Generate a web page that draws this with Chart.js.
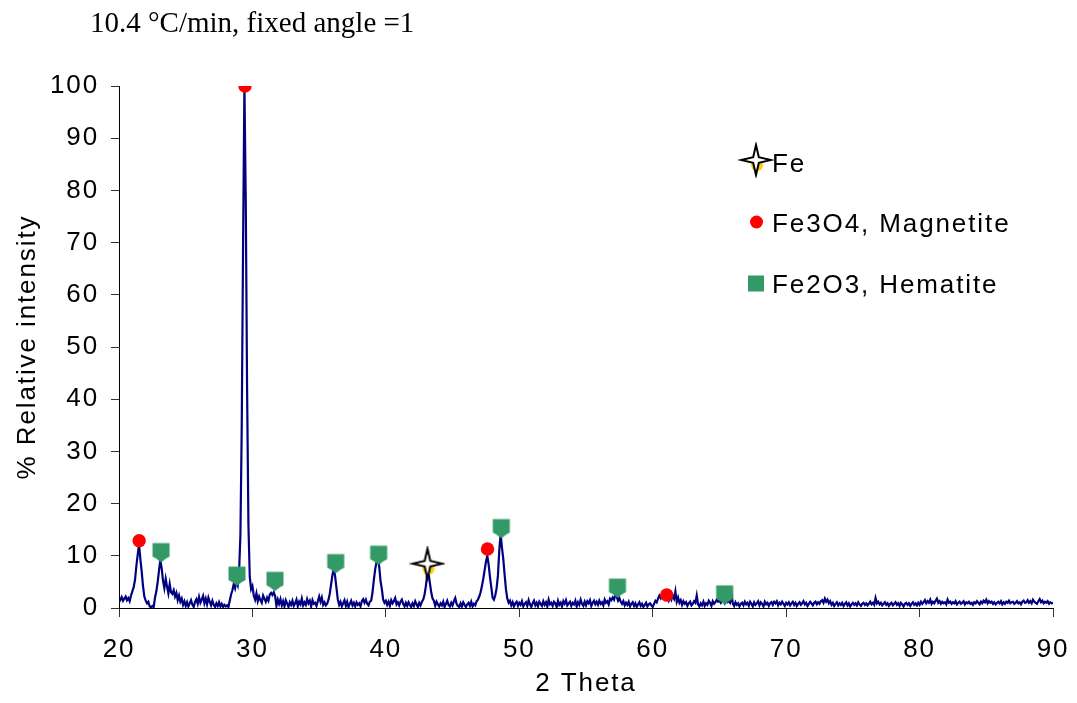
<!DOCTYPE html>
<html>
<head>
<meta charset="utf-8">
<title>XRD pattern</title>
<script src="https://cdn.jsdelivr.net/npm/chart.js@4.4.1/dist/chart.umd.min.js"></script>
<style>
  html, body { margin: 0; padding: 0; background: #ffffff; }
  #plot { display: block; }
</style>
</head>
<body>
<canvas id="plot" width="1077" height="703"></canvas>
<script>
// Scan settings: 2-theta from 20 to 90 degrees in 0.1 degree steps
const scanStart = 20;
const scanStep = 0.1;

// Relative intensity (%) for each step, one row per degree
const intensity = [
  1.1, 1.6, 2.1, 1.4, 1.8, 2.2, 1.5, 1.9, 1.3, 2.4,      // 20
  3.2, 4.0, 5.4, 8.0, 10.2, 12.2, 9.4, 7.0, 4.2, 2.2,    // 21
  1.4, 0.9, 1.2, 0.3, 0.1, 0.4, 0.2, 2.0, 3.2, 5.0,      // 22
  7.2, 9.2, 7.6, 5.2, 3.8, 5.6, 4.1, 2.8, 4.6, 3.0,      // 23
  2.7, 3.4, 2.2, 2.9, 1.5, 2.4, 1.2, 1.8, 0.6, 1.3,      // 24
  0.4, 1.1, 0.3, 0.9, 1.5, 0.6, 0.2, 1.2, 1.7, 0.8,      // 25
  2.1, 1.0, 1.6, 2.3, 0.9, 1.8, 0.7, 2.0, 1.2, 0.5,      // 26
  1.4, 0.6, 0.2, 0.9, 0.4, 1.1, 0.3, 0.8, 0.2, 0.6,      // 27
  0.3, 0.5, 0.2, 1.4, 2.6, 3.4, 4.6, 3.8, 5.2, 4.4,      // 28
  7.0, 14.0, 35.0, 70.0, 100, 78.0, 42.0, 16.0, 6.0, 3.6, // 29
  4.2, 2.4, 1.6, 2.8, 1.3, 2.2, 1.5, 1.0, 2.4, 1.8,      // 30
  1.2, 2.0, 1.4, 2.6, 2.9, 2.5, 3.0, 2.3, 0.4, 1.6,      // 31
  0.8, 1.7, 0.5, 1.3, 0.3, 1.5, 0.9, 0.2, 1.1, 0.6,      // 32
  1.4, 0.4, 0.9, 1.6, 0.3, 1.2, 0.7, 1.8, 0.5, 1.1,      // 33
  0.6, 1.7, 0.9, 1.4, 0.3, 1.5, 0.8, 1.0, 0.4, 1.3,      // 34
  2.2, 1.2, 2.0, 0.6, 1.1, 0.5, 0.8, 1.6, 2.8, 4.6,      // 35
  6.4, 7.6, 6.0, 3.8, 1.6, 0.6, 1.2, 0.3, 0.9, 1.5,      // 36
  0.4, 1.2, 0.2, 0.8, 1.4, 0.5, 1.0, 0.3, 1.1, 0.6,      // 37
  0.9, 0.3, 1.3, 1.7, 1.0, 1.6, 0.8, 0.5, 1.2, 1.4,      // 38
  3.0, 5.4, 7.4, 8.8, 9.6, 8.0, 5.2, 3.6, 1.6, 1.0,      // 39
  1.4, 0.6, 1.2, 0.4, 1.5, 0.9, 1.3, 1.9, 0.7, 1.1,      // 40
  0.5, 1.2, 1.6, 0.8, 0.3, 1.0, 0.4, 1.1, 0.6, 0.2,      // 41
  0.9, 0.4, 1.3, 0.7, 0.2, 1.0, 0.5, 1.2, 1.6, 2.6,      // 42
  4.2, 6.4, 6.6, 4.8, 3.0, 1.8, 1.4, 0.4, 1.2, 0.7,      // 43
  0.3, 0.9, 0.5, 1.2, 0.2, 0.8, 1.4, 0.6, 0.3, 1.0,      // 44
  0.5, 1.3, 1.9, 0.8, 0.4, 0.2, 0.9, 0.3, 1.1, 0.6,      // 45
  0.2, 0.7, 1.0, 0.4, 1.2, 0.3, 0.8, 0.5, 1.3, 1.6,      // 46
  2.2, 3.0, 4.2, 5.6, 7.2, 8.8, 10.0, 8.4, 6.0, 4.0,     // 47
  2.0, 1.6, 2.4, 3.8, 6.2, 11.0, 14.2, 11.6, 9.4, 6.4,   // 48
  3.6, 1.8, 1.0, 1.4, 0.5, 1.1, 0.3, 0.9, 1.2, 0.4,      // 49
  1.0, 0.6, 1.3, 0.3, 0.8, 1.1, 0.4, 1.5, 0.7, 0.2,      // 50
  0.9, 1.4, 0.5, 1.0, 0.3, 1.2, 0.8, 0.4, 1.3, 0.6,      // 51
  1.1, 0.3, 1.6, 0.7, 1.0, 0.4, 1.2, 0.9, 0.2, 1.4,      // 52
  0.6, 1.0, 0.3, 1.3, 0.8, 1.5, 0.5, 0.9, 1.2, 0.4,      // 53
  1.0, 0.7, 1.4, 0.3, 1.1, 0.6, 1.6, 0.8, 0.4, 1.2,      // 54
  0.5, 1.3, 0.9, 1.5, 0.4, 1.0, 1.4, 0.7, 1.2, 0.6,      // 55
  1.4, 0.8, 1.1, 0.5, 1.6, 1.0, 1.3, 0.7, 1.8, 1.5,      // 56
  2.0, 1.6, 2.6, 2.2, 1.4, 1.9, 1.2, 0.8, 1.3, 0.5,      // 57
  1.0, 0.6, 1.2, 0.3, 0.8, 1.1, 0.4, 0.9, 0.2, 0.7,      // 58
  1.1, 0.4, 0.8, 0.2, 0.6, 1.0, 0.3, 0.7, 0.9, 0.5,      // 59
  0.2, 0.8, 1.4, 1.1, 1.8, 2.4, 1.9, 2.6, 2.1, 1.7,      // 60
  2.5, 2.0, 1.4, 2.2, 1.6, 2.4, 1.8, 3.2, 1.2, 2.0,      // 61
  1.0, 1.5, 0.6, 1.3, 0.8, 1.1, 0.4, 0.9, 1.2, 0.5,      // 62
  0.8, 1.3, 1.0, 2.4, 0.7, 0.3, 0.9, 0.5, 1.2, 0.4,      // 63
  0.9, 0.6, 1.4, 1.0, 0.4, 1.3, 0.8, 1.1, 1.6, 1.2,      // 64
  1.4, 1.0, 1.7, 1.3, 0.9, 1.5, 1.1, 1.3, 1.0, 2.8,      // 65
  0.9, 0.4, 1.1, 0.6, 0.9, 0.3, 0.8, 1.0, 0.5, 1.2,      // 66
  0.7, 1.0, 0.4, 1.2, 0.8, 0.3, 1.1, 0.6, 0.9, 1.3,      // 67
  0.5, 1.1, 0.8, 0.3, 1.2, 0.7, 1.0, 0.4, 0.9, 1.1,      // 68
  0.6, 1.2, 0.9, 1.3, 0.5, 1.0, 0.7, 1.2, 0.8, 0.4,      // 69
  1.0, 0.7, 1.1, 0.5, 0.9, 1.2, 0.6, 1.0, 0.4, 0.8,      // 70
  1.1, 0.6, 0.9, 1.3, 0.7, 1.0, 0.4, 0.8, 1.2, 0.9,      // 71
  0.5, 1.0, 1.2, 0.7, 1.1, 0.8, 1.3, 1.5, 1.0, 1.8,      // 72
  1.2, 1.6, 0.9, 1.3, 0.6, 1.0, 0.4, 0.8, 1.1, 0.5,      // 73
  0.9, 0.6, 1.0, 0.4, 0.8, 1.1, 0.5, 0.9, 0.3, 0.7,      // 74
  1.0, 0.6, 0.9, 0.5, 1.1, 0.7, 0.4, 0.8, 1.0, 0.6,      // 75
  0.9, 0.5, 0.8, 1.2, 0.7, 1.0, 0.6, 1.9, 0.9, 1.2,      // 76
  0.7, 1.0, 0.5, 0.8, 1.1, 0.6, 0.9, 0.4, 0.8, 1.0,      // 77
  0.5, 0.8, 1.1, 0.6, 0.9, 0.4, 1.0, 0.7, 0.3, 0.8,      // 78
  1.0, 0.6, 0.9, 0.4, 0.8, 1.1, 0.6, 0.9, 0.5, 1.0,      // 79
  0.6, 1.2, 0.8, 1.1, 1.5, 0.9, 1.3, 1.0, 1.6, 0.8,      // 80
  1.2, 0.9, 1.4, 1.8, 1.0, 1.3, 0.8, 1.2, 0.9, 1.1,      // 81
  0.7, 1.6, 1.0, 1.2, 0.8, 1.1, 0.9, 1.3, 0.7, 1.0,      // 82
  1.2, 0.8, 1.0, 1.3, 0.7, 1.1, 0.9, 1.2, 0.8, 1.0,      // 83
  0.6, 1.1, 0.9, 1.3, 1.0, 0.7, 1.2, 0.9, 1.4, 1.1,      // 84
  1.6, 0.9, 1.3, 1.0, 1.2, 0.8, 1.1, 0.7, 1.0, 1.2,      // 85
  0.9, 1.3, 0.7, 1.1, 0.8, 1.2, 1.0, 1.4, 0.9, 1.1,      // 86
  1.2, 0.8, 1.0, 1.3, 0.9, 1.1, 0.7, 1.2, 1.4, 1.0,      // 87
  1.1, 1.5, 1.0, 1.3, 0.9, 1.6, 1.2, 1.0, 0.8, 1.3,      // 88
  1.7, 1.1, 1.4, 0.9, 1.2, 1.0, 1.3, 0.8, 1.1, 0.9,      // 89
  1.0                                                    // 90
];

// Identified phase peaks (2-theta, relative intensity)
const ironTheta = [43.12];
const ironIntensity = [8.5];
const magnetiteTheta = [21.51, 29.44, 47.62, 61.05];
const magnetiteIntensity = [12.9, 100, 11.3, 2.5];
const hematiteTheta = [23.15, 28.84, 31.69, 36.24, 39.46, 48.65, 57.36, 65.39];
const hematiteIntensity = [10.8, 6.3, 5.3, 8.7, 10.3, 15.4, 4.0, 2.7];

// Axis ticks and text
const xTickValues = [20, 30, 40, 50, 60, 70, 80, 90];
const yTickValues = [0, 10, 20, 30, 40, 50, 60, 70, 80, 90, 100];
const phaseLabels = ['Fe', 'Fe3O4, Magnetite', 'Fe2O3, Hematite'];
const chartTitle = '10.4 \u00B0C/min, fixed angle =1';
const xAxisTitle = '2 Theta';
const yAxisTitle = '% Relative intensity';

const SANS = '"Liberation Sans", Arial, Helvetica, sans-serif';
const SERIF = '"Liberation Serif", "Times New Roman", serif';
const SPACING = '1.9px';
const NAVY = '#000080';
const RED = '#ff0000';
const GREEN = '#339966';
const GOLD = '#ffcc00';

// Four-pointed star marker (white with black outline, gold behind)
function makeStarMarker() {
  const c = document.createElement('canvas');
  c.width = 36; c.height = 36;
  const g = c.getContext('2d');
  g.translate(18, 18);
  g.fillStyle = GOLD;
  g.beginPath(); g.arc(1, 5, 6, 0, Math.PI * 2); g.fill();
  g.beginPath();
  for (let k = 0; k < 8; k++) {
    const a = -Math.PI / 2 + k * Math.PI / 4;
    const rad = k % 2 ? 4 : 15;
    g.lineTo(rad * Math.cos(a), rad * Math.sin(a));
  }
  g.closePath();
  g.fillStyle = '#ffffff';
  g.fill();
  g.lineWidth = 2;
  g.strokeStyle = '#000000';
  g.stroke();
  return c;
}

// Square marker with a rounded point underneath
function makeHematiteMarker() {
  const c = document.createElement('canvas');
  c.width = 20; c.height = 24;
  const g = c.getContext('2d');
  g.translate(10, 12);
  g.fillStyle = GREEN;
  g.beginPath();
  g.moveTo(-8.5, -8.5);
  g.lineTo(8.5, -8.5);
  g.lineTo(8.5, 5);
  g.quadraticCurveTo(4, 7, 1, 10);
  g.quadraticCurveTo(0, 10.8, -1, 10);
  g.quadraticCurveTo(-4, 7, -8.5, 5);
  g.closePath();
  g.fill();
  return c;
}

const starMarker = makeStarMarker();
const hematiteMarker = makeHematiteMarker();

const patternPoints = intensity.map((v, i) => ({ x: +(scanStart + i * scanStep).toFixed(2), y: v }));
const toPoints = (xs, ys) => xs.map((x, i) => ({ x, y: ys[i] }));

// Letter spacing for the sans-serif texts
const spacingPlugin = {
  id: 'spacing',
  beforeUpdate(chart) { chart.ctx.letterSpacing = SPACING; },
  beforeDraw(chart) { chart.ctx.letterSpacing = SPACING; }
};

// Heading in the upper left
const headingPlugin = {
  id: 'heading',
  afterDraw(chart) {
    const ctx = chart.ctx;
    ctx.save();
    ctx.letterSpacing = '0px';
    ctx.font = '29px ' + SERIF;
    ctx.fillStyle = '#000000';
    ctx.textAlign = 'left';
    ctx.textBaseline = 'alphabetic';
    ctx.fillText(chartTitle, 90, 32);
    ctx.restore();
  }
};

// Phase key inside the plot area
const phaseKeyPlugin = {
  id: 'phaseKey',
  afterDraw(chart) {
    const ctx = chart.ctx;
    ctx.save();
    ctx.letterSpacing = SPACING;
    ctx.font = '26px ' + SANS;
    ctx.fillStyle = '#000000';
    ctx.textAlign = 'left';
    ctx.textBaseline = 'alphabetic';
    // Fe
    ctx.drawImage(starMarker, 756 - 18, 160 - 18);
    ctx.fillText(phaseLabels[0], 772, 172);
    // Magnetite
    ctx.fillStyle = RED;
    ctx.beginPath(); ctx.arc(756.5, 222, 6.5, 0, Math.PI * 2); ctx.fill();
    ctx.fillStyle = '#000000';
    ctx.fillText(phaseLabels[1], 772, 232);
    // Hematite
    ctx.fillStyle = GREEN;
    ctx.fillRect(748, 275.5, 16, 16);
    ctx.fillStyle = '#000000';
    ctx.fillText(phaseLabels[2], 772, 293);
    ctx.restore();
  }
};

const tickFont = { family: SANS, size: 26 };

new Chart(document.getElementById('plot'), {
  type: 'scatter',
  data: {
    datasets: [
      {
        type: 'line',
        label: 'Pattern',
        data: patternPoints,
        borderColor: NAVY,
        borderWidth: 2.2,
        pointRadius: 0,
        tension: 0,
        fill: false,
        order: 3
      },
      {
        label: phaseLabels[0],
        data: toPoints(ironTheta, ironIntensity),
        pointStyle: starMarker,
        order: 1
      },
      {
        label: phaseLabels[1],
        data: toPoints(magnetiteTheta, magnetiteIntensity),
        pointStyle: 'circle',
        pointRadius: 6.7,
        backgroundColor: RED,
        borderWidth: 0,
        order: 1
      },
      {
        label: phaseLabels[2],
        data: toPoints(hematiteTheta, hematiteIntensity),
        pointStyle: hematiteMarker,
        order: 1
      }
    ]
  },
  options: {
    responsive: false,
    animation: false,
    devicePixelRatio: 1,
    layout: { padding: { top: 86, right: 24, bottom: 0, left: 0 } },
    plugins: {
      legend: { display: false },
      tooltip: { enabled: false },
      title: { display: false }
    },
    scales: {
      x: {
        type: 'linear',
        position: 'bottom',
        min: 20,
        max: 90,
        afterBuildTicks(scale) { scale.ticks = xTickValues.map(value => ({ value })); },
        afterFit(scale) {
          scale.height = 95;
          scale.paddingLeft = 0;
          scale.paddingRight = 0;
        },
        ticks: { font: tickFont, color: '#000000', padding: 17, maxRotation: 0, autoSkip: false },
        grid: { display: true, drawOnChartArea: false, drawTicks: true, tickLength: 9, color: '#333333', lineWidth: 1 },
        border: { display: true, color: '#000000', width: 1 },
        title: { display: true, text: xAxisTitle, color: '#000000', font: { family: SANS, size: 26 }, padding: { top: 0, bottom: 4 } }
      },
      y: {
        type: 'linear',
        position: 'left',
        min: 0,
        max: 100,
        afterBuildTicks(scale) { scale.ticks = yTickValues.map(value => ({ value })); },
        afterFit(scale) { scale.width = 119; },
        ticks: { font: tickFont, color: '#000000', padding: 12, autoSkip: false },
        grid: { display: true, drawOnChartArea: false, drawTicks: true, tickLength: 8, color: '#333333', lineWidth: 1 },
        border: { display: true, color: '#000000', width: 1 },
        title: { display: true, text: yAxisTitle, color: '#000000', font: { family: SANS, size: 26 }, padding: { top: 12, bottom: 0 } }
      }
    }
  },
  plugins: [spacingPlugin, headingPlugin, phaseKeyPlugin]
});
</script>
</body>
</html>
